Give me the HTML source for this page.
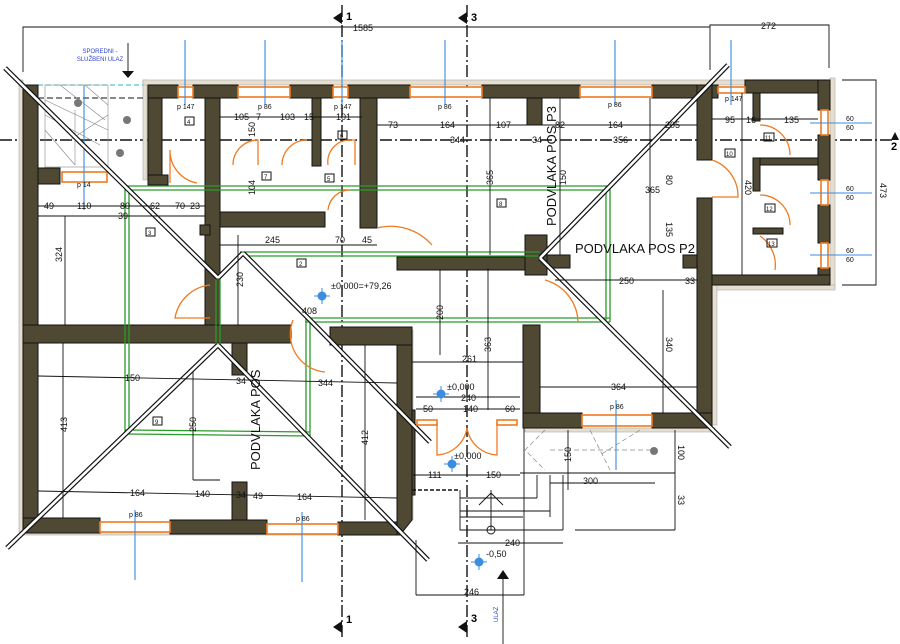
<!DOCTYPE html>
<html><head><meta charset="utf-8"><style>
html,body{margin:0;padding:0;background:#fff;}
svg{display:block;font-family:"Liberation Sans",sans-serif;}
.w{fill:#4f4933;stroke:#111;stroke-width:1}
.ins{fill:#e6dfd0;stroke:#aaa;stroke-width:0.6}
.win{fill:#fff;stroke:#f07a20;stroke-width:1.6}
.d{stroke:#111;stroke-width:0.9;fill:none}
.ax{stroke:#111;stroke-width:1.4;stroke-dasharray:12 3 2 3;fill:none}
.g{stroke:#2a9a2a;stroke-width:1.3;fill:none}
.door{stroke:#f07a20;stroke-width:1.3;fill:none}
.bl{stroke:#3a8de0;stroke-width:1.1}
.t{font-size:9px;fill:#111}
.ts{font-size:7px;fill:#111}
.diag{stroke:#111;stroke-width:1;fill:#fff}
</style></head><body>
<svg width="900" height="644" viewBox="0 0 900 644">
<!-- axes -->
<line class="ax" x1="342" y1="5" x2="342" y2="640"/>
<line class="ax" x1="467" y1="5" x2="467" y2="640"/>
<line class="ax" x1="0" y1="140" x2="895" y2="140"/>
<polygon points="333,18 342,12 342,24" fill="#111"/><text x="346" y="20" font-size="11" font-weight="bold">1</text>
<polygon points="458,18 467,12 467,24" fill="#111"/><text x="471" y="21" font-size="11" font-weight="bold">3</text>
<polygon points="333,627 342,621 342,633" fill="#111"/><text x="346" y="623" font-size="11" font-weight="bold">1</text>
<polygon points="458,627 467,621 467,633" fill="#111"/><text x="471" y="622" font-size="11" font-weight="bold">3</text>
<polygon points="895,132 899,140 891,140" fill="#111"/><text x="891" y="150" font-size="11" font-weight="bold">2</text>

<!-- top dims -->
<polyline class="d" points="23,72 23,27 710,27"/>
<text class="t" x="353" y="31" font-size="10">1585</text>
<polyline class="d" points="710,70 710,25 829,25 829,68"/>
<text class="t" x="761" y="29" font-size="10">272</text>
<polyline class="d" points="842,80 876,80 876,285 842,285"/>
<text class="t" x="0" y="0" transform="translate(880,183) rotate(90)" font-size="10">473</text>

<text x="100" y="53" font-size="6" fill="#3344cc" text-anchor="middle">SPOREDNI -</text>
<text x="100" y="61" font-size="6" fill="#3344cc" text-anchor="middle">SLUŽBENI ULAZ</text>
<line class="d" x1="128" y1="43" x2="128" y2="72"/><polygon points="122,71 134,71 128,78" fill="#111"/>

<!-- insulation outer -->
<rect class="ins" x="19" y="80" width="4" height="452"/>
<rect class="ins" x="143" y="80" width="4" height="100"/>
<rect class="ins" x="143" y="80" width="690" height="5"/>
<rect class="ins" x="830" y="78" width="5" height="210"/>
<rect class="ins" x="712" y="285" width="123" height="5"/>
<rect class="ins" x="712" y="285" width="5" height="140"/>
<rect class="ins" x="23" y="530" width="380" height="5"/>
<rect class="ins" x="408" y="330" width="5" height="190"/>
<rect class="ins" x="525" y="428" width="190" height="4"/>

<!-- stair area -->
<line x1="38" y1="85" x2="143" y2="85" stroke="#2bb" stroke-width="1" stroke-dasharray="5 3"/>
<line x1="38" y1="98" x2="143" y2="98" stroke="#111" stroke-width="1" stroke-dasharray="6 3"/>
<g stroke="#888" stroke-width="0.6" fill="none">
<rect x="45" y="85" width="63" height="82"/>
<line x1="45" y1="100" x2="108" y2="130"/><line x1="45" y1="115" x2="100" y2="145"/>
<line x1="45" y1="130" x2="75" y2="165"/><line x1="60" y1="85" x2="105" y2="120"/>
<line x1="85" y1="85" x2="108" y2="105"/><line x1="70" y1="140" x2="108" y2="115"/>
<line x1="75" y1="110" x2="75" y2="165"/>
</g>
<circle cx="78" cy="103" r="4" fill="#777"/><circle cx="127" cy="120" r="4" fill="#777"/><circle cx="120" cy="153" r="4" fill="#777"/>

<!-- walls -->
<rect class="w" x="23" y="85" width="15" height="445"/>
<rect class="w" x="38" y="168" width="22" height="16"/>
<rect class="w" x="148" y="85" width="14" height="100"/>
<rect class="w" x="148" y="85" width="30" height="13"/>
<rect class="w" x="193" y="85" width="45" height="13"/>
<rect class="w" x="290" y="85" width="43" height="13"/>
<rect class="w" x="348" y="85" width="62" height="13"/>
<rect class="w" x="482" y="85" width="98" height="13"/>
<rect class="w" x="652" y="85" width="66" height="13"/>
<rect class="w" x="148" y="175" width="20" height="10"/>
<rect class="w" x="205" y="98" width="15" height="232"/>
<rect class="w" x="220" y="212" width="105" height="15"/>
<rect class="w" x="312" y="98" width="9" height="68"/>
<rect class="w" x="360" y="98" width="17" height="130"/>
<rect class="w" x="200" y="225" width="10" height="10"/>
<rect class="w" x="527" y="98" width="15" height="27"/>
<rect class="w" x="525" y="235" width="22" height="40"/>
<rect class="w" x="397" y="257" width="128" height="13"/>
<rect class="w" x="547" y="255" width="23" height="13"/>
<rect class="w" x="683" y="255" width="14" height="13"/>
<rect class="w" x="697" y="85" width="15" height="75"/>
<rect class="w" x="697" y="198" width="15" height="230"/>
<!-- annex -->
<rect class="w" x="745" y="80" width="85" height="13"/>
<rect class="w" x="818" y="80" width="12" height="30"/>
<rect class="w" x="818" y="135" width="12" height="45"/>
<rect class="w" x="818" y="205" width="12" height="38"/>
<rect class="w" x="818" y="268" width="12" height="17"/>
<rect class="w" x="753" y="93" width="7" height="28"/>
<rect class="w" x="753" y="158" width="65" height="7"/>
<rect class="w" x="753" y="158" width="7" height="33"/>
<rect class="w" x="753" y="228" width="30" height="6"/>
<rect class="w" x="712" y="275" width="118" height="10"/>
<rect class="win" x="821" y="110" width="7" height="25"/>
<rect class="win" x="821" y="180" width="7" height="25"/>
<rect class="win" x="821" y="243" width="7" height="25"/>
<!-- lower left -->
<rect class="w" x="23" y="325" width="268" height="18"/>
<rect class="w" x="232" y="343" width="15" height="32"/>
<rect class="w" x="232" y="482" width="15" height="40"/>
<rect class="w" x="23" y="518" width="77" height="15"/>
<rect class="w" x="170" y="520" width="97" height="14"/>
<rect class="w" x="338" y="522" width="62" height="13"/>
<polygon class="w" points="397,330 412,330 412,520 400,535 397,535"/>
<rect class="w" x="330" y="327" width="82" height="18"/>
<!-- center right room -->
<rect class="w" x="523" y="325" width="17" height="103"/>
<rect class="w" x="523" y="413" width="59" height="15"/>
<rect class="w" x="652" y="413" width="60" height="15"/>
<!-- entrance walls -->
<rect class="w" x="412" y="410" width="3" height="85" />

<!-- windows -->
<rect class="win" x="178" y="87" width="15" height="10"/>
<rect class="win" x="238" y="87" width="52" height="10"/>
<rect class="win" x="333" y="87" width="15" height="10"/>
<rect class="win" x="410" y="87" width="72" height="10"/>
<rect class="win" x="580" y="87" width="72" height="10"/>
<rect class="win" x="718" y="87" width="27" height="6"/>
<rect class="win" x="62" y="172" width="45" height="10"/>
<rect class="win" x="100" y="522" width="70" height="10"/>
<rect class="win" x="267" y="524" width="71" height="10"/>
<rect class="win" x="582" y="415" width="70" height="11"/>

<!-- blue window ticks -->
<g class="bl">
<line x1="185" y1="40" x2="185" y2="105"/><line x1="265" y1="40" x2="265" y2="105"/>
<line x1="342" y1="40" x2="342" y2="105"/><line x1="445" y1="40" x2="445" y2="105"/>
<line x1="615" y1="40" x2="615" y2="105"/><line x1="731" y1="40" x2="731" y2="105"/>
<line x1="84" y1="85" x2="84" y2="210"/>
<line x1="135" y1="510" x2="135" y2="580"/><line x1="302" y1="512" x2="302" y2="582"/>
<line x1="616" y1="400" x2="616" y2="470"/>
<line x1="810" y1="123" x2="872" y2="123"/><line x1="810" y1="193" x2="872" y2="193"/><line x1="810" y1="255" x2="872" y2="255"/>
</g>

<!-- green beams -->
<g class="g">
<line x1="125" y1="186" x2="610" y2="186"/><line x1="125" y1="190" x2="610" y2="190"/>
<line x1="125" y1="186" x2="125" y2="433"/><line x1="129" y1="190" x2="129" y2="433"/>
<line x1="606" y1="186" x2="606" y2="322"/><line x1="610" y1="186" x2="610" y2="322"/>
<line x1="240" y1="252" x2="540" y2="252"/><line x1="240" y1="256" x2="540" y2="256"/>
<line x1="305" y1="318" x2="610" y2="318"/><line x1="305" y1="322" x2="610" y2="322"/>
<line x1="306" y1="318" x2="306" y2="436"/><line x1="310" y1="318" x2="310" y2="436"/>
<line x1="125" y1="430" x2="310" y2="432"/><line x1="125" y1="434" x2="310" y2="436"/>
<line x1="216" y1="278" x2="216" y2="346"/><line x1="220" y1="278" x2="220" y2="346"/>
</g>

<!-- diagonal hip lines -->
<g stroke="#111" stroke-width="5" fill="none" stroke-linecap="butt"><line x1="5" y1="68" x2="218" y2="278"/><line x1="218" y1="278" x2="243" y2="253"/><line x1="243" y1="253" x2="310" y2="320"/><line x1="310" y1="320" x2="430" y2="442"/><line x1="218" y1="345" x2="7" y2="548"/><line x1="218" y1="345" x2="428" y2="560"/><line x1="728" y1="65" x2="540" y2="258"/><line x1="540" y1="258" x2="730" y2="447"/></g>
<g stroke="#fff" stroke-width="2.6" fill="none"><line x1="5" y1="68" x2="218" y2="278"/><line x1="218" y1="278" x2="243" y2="253"/><line x1="243" y1="253" x2="310" y2="320"/><line x1="310" y1="320" x2="430" y2="442"/><line x1="218" y1="345" x2="7" y2="548"/><line x1="218" y1="345" x2="428" y2="560"/><line x1="728" y1="65" x2="540" y2="258"/><line x1="540" y1="258" x2="730" y2="447"/></g>

<!-- doors -->
<g class="door">
<path d="M170,183 L170,150 A33,33 0 0 0 197,183"/>
<path d="M233,165 A25,25 0 0 1 258,140 L258,165"/>
<path d="M282,165 A25,25 0 0 1 307,140"/>
<path d="M328,165 A22,22 0 0 1 350,140 L355,140 L355,165"/>
<path d="M328,210 A22,22 0 0 1 350,190"/>
<path d="M377,228 A55,55 0 0 1 432,245"/>
<path d="M210,285 A40,40 0 0 0 175,318 L210,318"/>
<path d="M293,320 A38,38 0 0 0 325,372"/>
<path d="M712,160 A38,38 0 0 1 738,197 L712,197"/>
<path d="M760,125 A30,30 0 0 1 790,155"/>
<path d="M760,195 A30,30 0 0 1 790,225"/>
<path d="M760,236 A35,35 0 0 1 775,270"/>
<path d="M545,280 A45,45 0 0 1 578,322"/>
<path d="M437,422 L437,455 A32,32 0 0 0 467,428"/>
<path d="M497,422 L497,455 A32,32 0 0 1 467,428"/>
</g>
<rect class="win" x="417" y="420" width="20" height="5"/>
<rect class="win" x="497" y="420" width="20" height="5"/>

<!-- inner dimension lines -->
<g class="d">
<line x1="220" y1="117" x2="362" y2="117"/>
<line x1="377" y1="125" x2="697" y2="125"/>
<line x1="712" y1="119" x2="818" y2="119"/>
<line x1="38" y1="206" x2="205" y2="206"/>
<line x1="38" y1="216" x2="205" y2="216"/>
<line x1="220" y1="245" x2="377" y2="245"/>
<line x1="65" y1="216" x2="65" y2="325"/>
<line x1="238" y1="235" x2="238" y2="325"/>
<line x1="38" y1="376" x2="397" y2="383"/>
<line x1="38" y1="491" x2="397" y2="498"/>
<line x1="63" y1="343" x2="63" y2="518"/>
<line x1="365" y1="345" x2="365" y2="520"/>
<line x1="193" y1="372" x2="193" y2="480"/><line x1="193" y1="480" x2="220" y2="480"/>
<line x1="490" y1="98" x2="490" y2="255"/>
<line x1="650" y1="98" x2="650" y2="255"/>
<line x1="560" y1="98" x2="560" y2="255"/>
<line x1="555" y1="280" x2="697" y2="280"/>
<line x1="742" y1="93" x2="742" y2="275"/>
<line x1="440" y1="270" x2="440" y2="355"/>
<line x1="488" y1="268" x2="488" y2="410"/>
<line x1="412" y1="362" x2="523" y2="362"/>
<line x1="540" y1="387" x2="697" y2="387"/>
<line x1="663" y1="290" x2="663" y2="413"/>
<line x1="416" y1="397" x2="520" y2="397"/>
<line x1="416" y1="409" x2="520" y2="409"/>
<line x1="413" y1="475" x2="520" y2="475"/>
<line x1="520" y1="473" x2="675" y2="473"/>
<line x1="550" y1="483" x2="655" y2="483"/>
<line x1="675" y1="430" x2="675" y2="530"/>
<line x1="575" y1="530" x2="675" y2="530"/>
<line x1="458" y1="543" x2="563" y2="543"/>
<line x1="416" y1="595" x2="524" y2="595"/>
<line x1="416" y1="540" x2="416" y2="595"/>
<line x1="524" y1="428" x2="524" y2="595"/>
<line x1="568" y1="430" x2="568" y2="490"/>
</g>
<!-- entry steps -->
<g class="d">
<polyline points="460,490 460,530 563,530"/>
<line x1="460" y1="498" x2="537" y2="498"/>
<line x1="460" y1="511" x2="550" y2="511"/>
<line x1="460" y1="517" x2="523" y2="517"/>
<line x1="537" y1="475" x2="537" y2="498"/>
<line x1="550" y1="475" x2="550" y2="517"/>
<line x1="563" y1="475" x2="563" y2="530"/>
<line x1="491" y1="490" x2="491" y2="530"/>
<line x1="479" y1="505" x2="491" y2="493"/><line x1="503" y1="505" x2="491" y2="493"/>
<circle cx="491" cy="530" r="4"/>
<line x1="503" y1="573" x2="503" y2="644"/>
</g>
<polygon points="497,579 509,579 503,570" fill="#111"/>
<line x1="412" y1="490" x2="460" y2="490" stroke="#111" stroke-width="1.5" stroke-dasharray="4 2"/>
<g stroke="#888" stroke-width="0.7" fill="none" stroke-dasharray="5 3">
<polyline points="545,430 525,450 545,470"/><line x1="550" y1="450" x2="650" y2="450"/>
<line x1="590" y1="430" x2="610" y2="470"/><line x1="640" y1="430" x2="600" y2="455"/>
</g>
<circle cx="654" cy="451" r="4" fill="#777"/>

<!-- blue level markers -->
<g fill="#3a8de0" stroke="#3a8de0">
<circle cx="322" cy="296" r="4"/><line x1="314" y1="296" x2="330" y2="296"/><line x1="322" y1="288" x2="322" y2="304"/>
<circle cx="441" cy="394" r="4"/><line x1="433" y1="394" x2="449" y2="394"/><line x1="441" y1="386" x2="441" y2="402"/>
<circle cx="452" cy="464" r="4"/><line x1="444" y1="464" x2="460" y2="464"/><line x1="452" y1="456" x2="452" y2="472"/>
<circle cx="479" cy="562" r="4"/><line x1="471" y1="562" x2="487" y2="562"/><line x1="479" y1="554" x2="479" y2="570"/>
</g>

<!-- texts -->
<g class="t">
<text x="234" y="120">105</text><text x="256" y="120">7</text><text x="280" y="120">103</text><text x="304" y="120">15</text><text x="336" y="120">101</text>
<text x="388" y="128">73</text><text x="440" y="128">164</text><text x="496" y="128">107</text><text x="555" y="128">82</text><text x="608" y="128">164</text><text x="665" y="128">205</text>
<text x="725" y="123">95</text><text x="746" y="123">16</text><text x="784" y="123">135</text>
<text x="450" y="143">344</text><text x="532" y="143">34</text><text x="613" y="143">356</text>
<text x="44" y="209">49</text><text x="77" y="209">110</text><text x="120" y="209">80</text><text x="150" y="209">62</text><text x="175" y="209">70</text><text x="190" y="209">23</text><text x="118" y="219">39</text>
<text x="265" y="243">245</text><text x="335" y="243">70</text><text x="362" y="243">45</text>
<text x="302" y="314">408</text><text x="331" y="289">±0,000=+79,26</text>
<text x="619" y="284">250</text><text x="685" y="284">33</text>
<text x="462" y="362">261</text><text x="611" y="390">364</text>
<text x="125" y="381">150</text><text x="236" y="384">34</text><text x="318" y="386">344</text>
<text x="130" y="496">164</text><text x="195" y="497">140</text><text x="236" y="498">34</text><text x="253" y="499">49</text><text x="297" y="500">164</text>
<text x="447" y="390">±0,000</text><text x="461" y="401">240</text><text x="423" y="412">50</text><text x="463" y="412">140</text><text x="505" y="412">60</text>
<text x="454" y="459">±0,000</text><text x="428" y="478">111</text><text x="486" y="478">150</text><text x="583" y="484">300</text>
<text x="505" y="546">240</text><text x="486" y="557">-0,50</text><text x="464" y="595">246</text>
<text x="645" y="193">365</text>
</g>
<g class="t">
<text transform="translate(62,262) rotate(-90)">324</text>
<text transform="translate(243,287) rotate(-90)">230</text>
<text transform="translate(493,185) rotate(-90)">365</text>
<text transform="translate(566,185) rotate(-90)">150</text>
<text transform="translate(666,175) rotate(90)">80</text>
<text transform="translate(666,222) rotate(90)">135</text>
<text transform="translate(745,180) rotate(90)">420</text>
<text transform="translate(443,320) rotate(-90)">200</text>
<text transform="translate(491,352) rotate(-90)">363</text>
<text transform="translate(666,337) rotate(90)">340</text>
<text transform="translate(67,432) rotate(-90)">413</text>
<text transform="translate(368,445) rotate(-90)">412</text>
<text transform="translate(196,432) rotate(-90)">250</text>
<text transform="translate(678,445) rotate(90)">100</text>
<text transform="translate(678,495) rotate(90)">33</text>
<text transform="translate(571,462) rotate(-90)">150</text>
<text transform="translate(255,137) rotate(-90)">150</text>
<text transform="translate(255,195) rotate(-90)">104</text>
</g>
<g class="ts">
<text x="177" y="109">p 147</text><text x="258" y="109">p 86</text><text x="334" y="109">p 147</text><text x="438" y="109">p 86</text><text x="608" y="107">p 86</text><text x="725" y="101">p 147</text>
<text x="77" y="187">p 14</text><text x="129" y="517">p 86</text><text x="296" y="521">p 86</text><text x="610" y="409">p 86</text>
<text x="846" y="121">60</text><text x="846" y="130">60</text><text x="846" y="191">60</text><text x="846" y="200">60</text><text x="846" y="253">60</text><text x="846" y="262">60</text>
</g>
<g font-size="6" fill="#111">
<rect x="185" y="117" width="9" height="8" fill="none" stroke="#111"/><text x="187" y="124">4</text>
<rect x="262" y="172" width="9" height="8" fill="none" stroke="#111"/><text x="264" y="179">7</text>
<rect x="325" y="174" width="9" height="8" fill="none" stroke="#111"/><text x="327" y="181">5</text>
<rect x="338" y="131" width="9" height="8" fill="none" stroke="#111"/><text x="340" y="138">6</text>
<rect x="146" y="228" width="9" height="8" fill="none" stroke="#111"/><text x="148" y="235">3</text>
<rect x="297" y="259" width="9" height="8" fill="none" stroke="#111"/><text x="299" y="266">2</text>
<rect x="497" y="199" width="9" height="8" fill="none" stroke="#111"/><text x="499" y="206">8</text>
<rect x="725" y="149" width="10" height="8" fill="none" stroke="#111"/><text x="726" y="156">10</text>
<rect x="764" y="133" width="10" height="8" fill="none" stroke="#111"/><text x="765" y="140">11</text>
<rect x="765" y="204" width="10" height="8" fill="none" stroke="#111"/><text x="766" y="211">12</text>
<rect x="767" y="239" width="10" height="8" fill="none" stroke="#111"/><text x="768" y="246">13</text>
<rect x="153" y="417" width="9" height="8" fill="none" stroke="#111"/><text x="155" y="424">9</text>
</g>
<text font-size="13" fill="#111" transform="translate(556,226) rotate(-90)">PODVLAKA POS P3</text>
<text font-size="13" fill="#111" x="575" y="253">PODVLAKA POS P2</text>
<text font-size="13" fill="#111" transform="translate(260,470) rotate(-90)">PODVLAKA POS</text>
<text font-size="6" fill="#3344cc" transform="translate(498,622) rotate(-90)">ULAZ</text>
</svg>
</body></html>
